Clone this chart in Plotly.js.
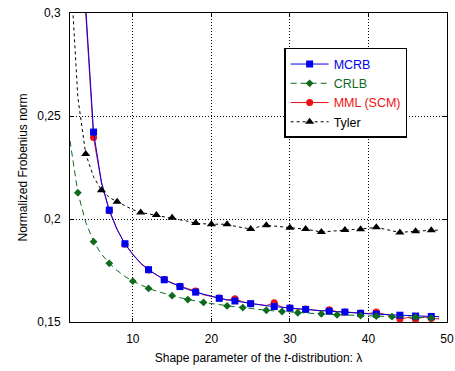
<!DOCTYPE html>
<html>
<head>
<meta charset="utf-8">
<script src="https://cdn.plot.ly/plotly-3.0.1.min.js"></script>
<style>html,body{margin:0;padding:0;background:#fff}#chart{width:455px;height:371px}</style>
</head>
<body>
<div id="chart"></div>
<script>
// Shape parameter lambda
var lambda = [2,3,4,5,6,7,8,9,10,11,12,13,14,15,16,17,18,19,20,21,22,23,24,25,26,27,28,29,30,31,32,33,34,35,36,37,38,39,40,41,42,43,44,45,46,47,48,49];

var mcrb = [1.00,0.45,0.303,0.2422,0.2180,0.2043,0.1948,0.1880,0.1826,0.1786,0.1754,0.1728,0.1705,0.1688,0.1672,0.1658,0.1645,0.1634,0.1624,0.1615,0.1608,0.1602,0.1595,0.1589,0.1584,0.1579,0.1575,0.1571,0.1567,0.1564,0.1561,0.1558,0.1555,0.1552,0.1550,0.1548,0.1545,0.1542,0.1540,0.1538,0.1536,0.1535,0.1533,0.1531,0.1529,0.1528,0.1527,0.1526];

var crlb = [0.238,0.2128,0.1985,0.1890,0.1830,0.1785,0.1750,0.1721,0.1698,0.1679,0.1663,0.1650,0.1638,0.1628,0.1618,0.1609,0.1602,0.1595,0.1589,0.1583,0.1578,0.1574,0.1570,0.1565,0.1561,0.1557,0.1554,0.1551,0.1548,0.1545,0.1543,0.1541,0.1539,0.1537,0.1535,0.1534,0.1532,0.1531,0.1530,0.1529,0.1527,0.1526,0.1525,0.1524,0.1523,0.1521,0.1519,0.1518];

var mml = [1.00,0.44,0.300,0.2396,0.2175,0.2040,0.1950,0.1878,0.1830,0.1784,0.1752,0.1730,0.1706,0.1690,0.1674,0.1662,0.1650,0.1632,0.1625,0.1617,0.1606,0.1613,0.1598,0.1588,0.1585,0.1580,0.1593,0.1572,0.1568,0.1562,0.1563,0.1557,0.1553,0.1560,0.1550,0.1549,0.1545,0.1544,0.1541,0.1548,0.1538,0.1530,0.1514,0.1522,0.1512,0.1525,0.1517,0.1515];

var tyler = [0.325,0.259,0.2316,0.2205,0.2140,0.2105,0.2084,0.2063,0.2045,0.2032,0.2025,0.2019,0.2012,0.2006,0.1998,0.1989,0.1980,0.1977,0.1974,0.1975,0.1974,0.1965,0.1958,0.1951,0.1962,0.1970,0.1966,0.1961,0.1957,0.1954,0.1951,0.1944,0.1937,0.1940,0.1943,0.1946,0.1948,0.1950,0.1955,0.1960,0.1951,0.1942,0.1934,0.1938,0.1941,0.1943,0.1945,0.1946];

// lambda values where markers are drawn
var mcrbMarks  = [5,7,9,12,14,16,18,21,23,25,28,30,32,35,37,39,41,44,46,48];
var mmlMarks   = [5,7,9,12,14,16,18,21,23,25,28,30,32,35,37,39,41,44,46,48];
var crlbMarks  = [3,5,7,10,12,15,17,19,22,24,27,29,31,34,36,39,41,43,46,48];
var tylerMarks = [4,6,8,11,13,15,18,20,22,25,27,30,32,34,37,39,41,44,46,48];

var seriesNames = ['MCRB','CRLB','MML (SCM)','Tyler'];
var xTicks = [10,20,30,40,50];
var yTicks = [0.15,0.2,0.25,0.3];

function idx(marks){ return marks.map(function(v){ return lambda.indexOf(v); }); }
function colName(n,c){ return '<span style="color:'+c+'">'+n+'</span>'; }

var BLUE='#0000ee', GREEN='#0e6b1e', RED='#ee1111', BLACK='#000000';

var tMML = {x:lambda, y:mml, mode:'lines+markers', name:colName(seriesNames[2],RED), legendrank:3,
  line:{color:RED,width:1}, marker:{symbol:'circle',size:7,color:RED},
  selectedpoints: idx(mmlMarks), selected:{marker:{opacity:1}}, unselected:{marker:{opacity:0}}};
var tMCRB = {x:lambda, y:mcrb, mode:'lines+markers', name:colName(seriesNames[0],BLUE), legendrank:1,
  line:{color:BLUE,width:1}, marker:{symbol:'square',size:7,color:BLUE},
  selectedpoints: idx(mcrbMarks), selected:{marker:{opacity:1}}, unselected:{marker:{opacity:0}}};
var tCRLB = {x:lambda, y:crlb, mode:'lines+markers', name:colName(seriesNames[1],GREEN), legendrank:2,
  line:{color:GREEN,width:1,dash:'6px,4px'}, marker:{symbol:'diamond',size:6,color:GREEN},
  selectedpoints: idx(crlbMarks), selected:{marker:{opacity:1}}, unselected:{marker:{opacity:0}}};
var tTyler = {x:lambda, y:tyler, mode:'lines+markers', name:colName(seriesNames[3],BLACK), legendrank:4,
  line:{color:BLACK,width:1,dash:'3px,3px'}, marker:{symbol:'triangle-up',size:8,color:BLACK},
  selectedpoints: idx(tylerMarks), selected:{marker:{opacity:1}}, unselected:{marker:{opacity:0}}};

var axisCommon = {showline:true, linecolor:'#000', linewidth:1, mirror:'allticks', ticks:'inside', ticklen:4,
  tickcolor:'#000', showgrid:true, gridcolor:'#000', gridwidth:1, griddash:'1px,2px', zeroline:false,
  tickfont:{family:'Liberation Sans, Arial, sans-serif', size:12, color:'#000'}};

var layout = {
  width:455, height:371,
  margin:{l:70, r:8, t:13, b:49},
  paper_bgcolor:'#fff', plot_bgcolor:'#fff',
  separators:',.',
  font:{family:'Liberation Sans, Arial, sans-serif', size:12, color:'#000'},
  showlegend:true,
  legend:{x:0.568, y:0.887, xanchor:'left', yanchor:'top', bgcolor:'#fff', bordercolor:'#000', borderwidth:1.5,
    font:{size:12.5}, tracegroupgap:0, itemwidth:38},
  xaxis:Object.assign({}, axisCommon, {range:[2,50], tickvals:xTicks, ticklabelstandoff:6,
    title:{text:'Shape parameter of the <i>t</i>-distribution: λ', font:{size:12}, standoff:8}}),
  yaxis:Object.assign({}, axisCommon, {range:[0.15,0.3], tickvals:yTicks, ticklabelstandoff:6,
    title:{text:'Normalized Frobenius norm', font:{size:12}, standoff:7}})
};

Plotly.newPlot('chart', [tMML, tMCRB, tCRLB, tTyler], layout, {displayModeBar:false, staticPlot:true});
</script>
</body>
</html>
